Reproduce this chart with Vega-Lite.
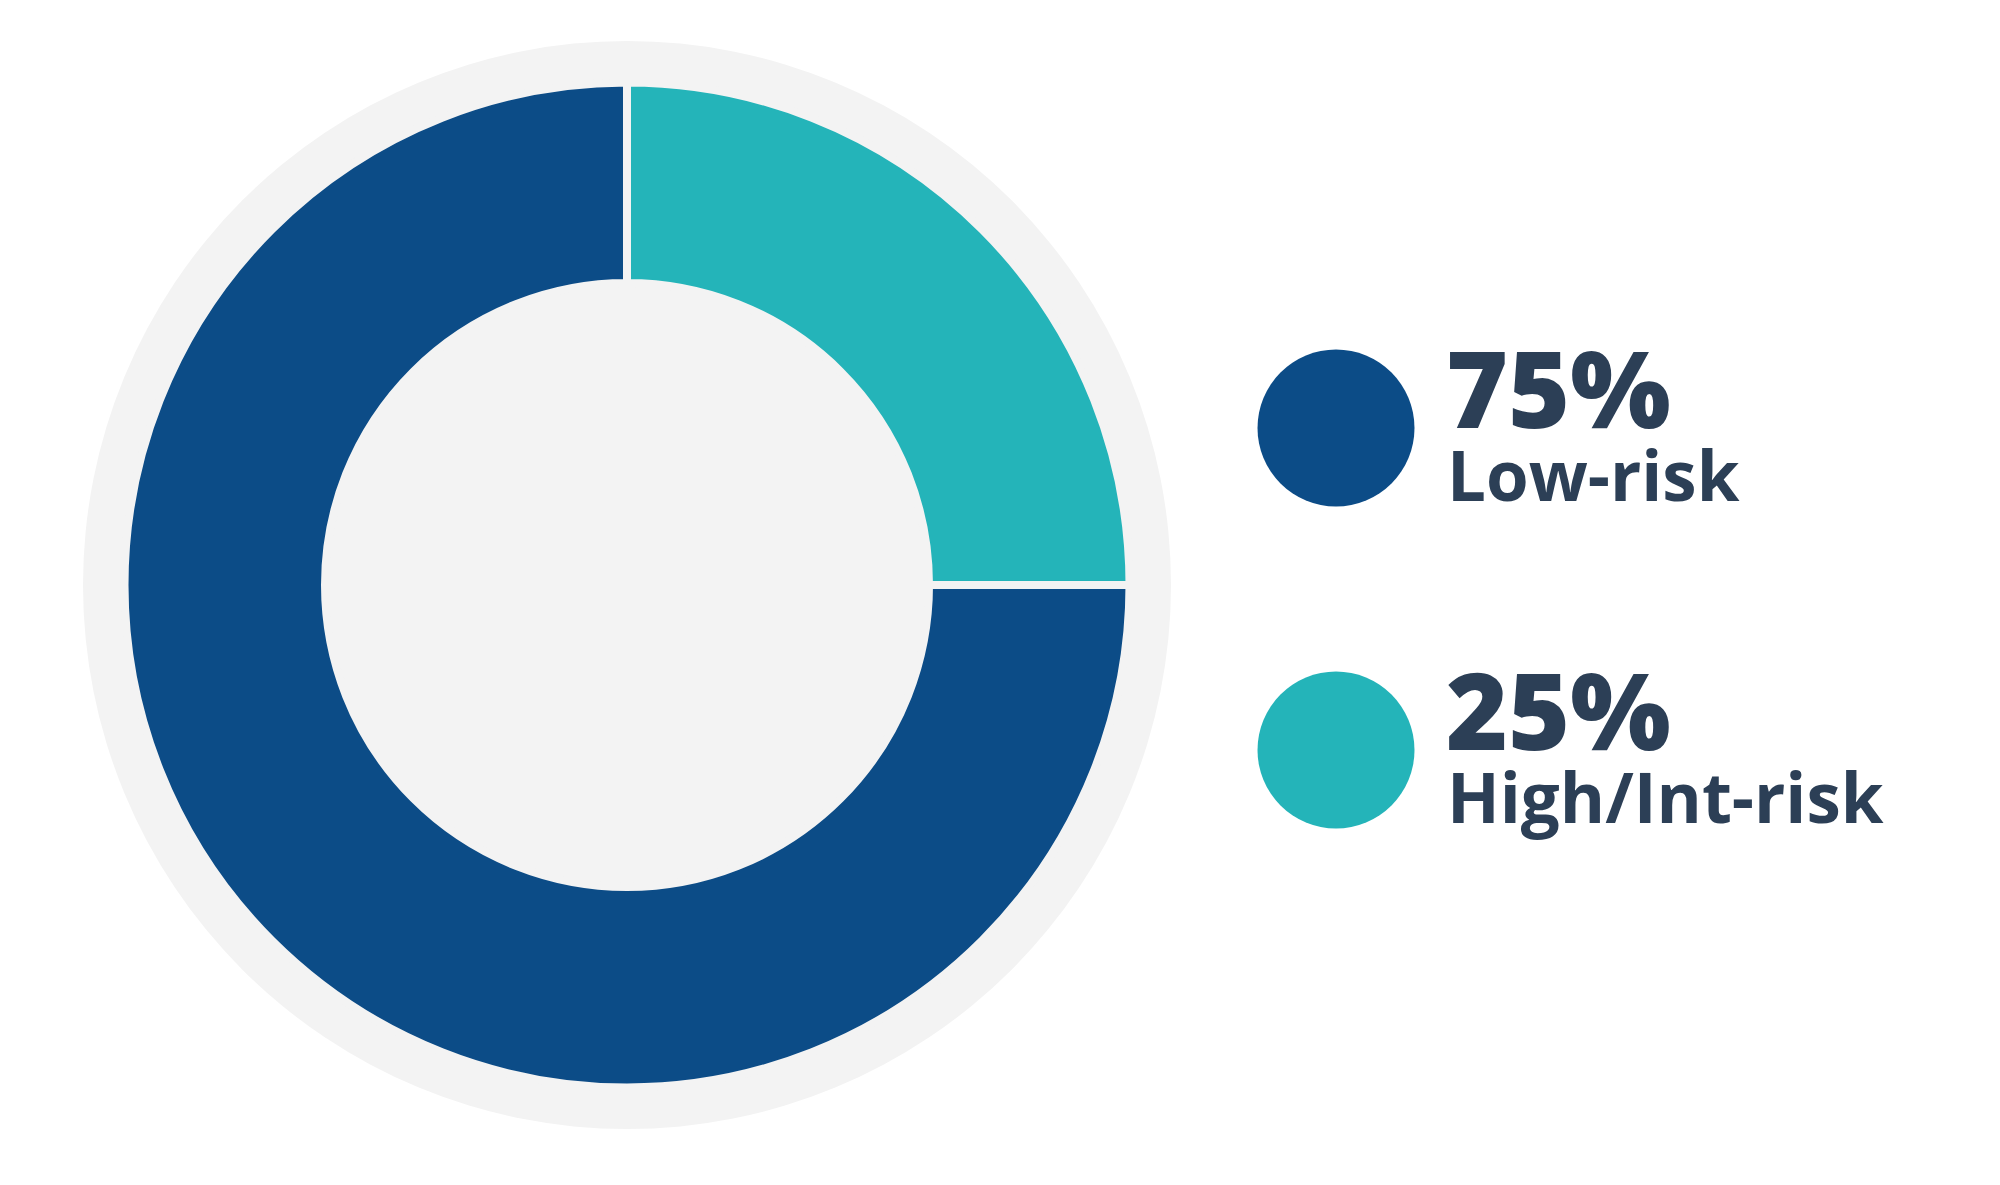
{
  "$schema": "https://vega.github.io/schema/vega-lite/v6.json",
  "padding": 0,
  "background": "#ffffff",
  "spacing": 0,
  "config": {"view": {"stroke": null}, "concat": {"spacing": 0}},
  "datasets": {
    "risk": [
      {"label": "Low-risk", "pct": "75%", "value": 75},
      {"label": "High/Int-risk", "pct": "25%", "value": 25}
    ]
  },
  "hconcat": [
    {
      "width": 1254,
      "height": 1170,
      "layer": [
        {
          "data": {"values": [{"whole": 1}]},
          "mark": {"type": "arc", "radius": 544, "theta": 0, "theta2": 6.2832, "color": "#f3f3f3"},
          "encoding": {}
        },
        {
          "data": {"name": "risk"},
          "mark": {"type": "arc", "radius": 502.5, "innerRadius": 302, "stroke": "#f3f3f3", "strokeWidth": 8},
          "encoding": {
            "theta": {"field": "value", "type": "quantitative", "stack": true},
            "order": {"field": "value", "type": "quantitative", "sort": "ascending"},
            "color": {"field": "label", "type": "nominal", "legend": null,
              "scale": {"domain": ["Low-risk", "High/Int-risk"], "range": ["#0c4c87", "#24b4b9"]}}
          }
        }
      ]
    },
    {
      "width": 164,
      "height": 1170,
      "data": {"name": "risk"},
      "encoding": {
        "y": {"field": "label", "type": "nominal", "sort": ["Low-risk", "High/Int-risk"],
          "scale": {"type": "point", "padding": 0, "range": [428, 750]}, "axis": null}
      },
      "layer": [
        {
          "mark": {"type": "point", "filled": true, "shape": "circle", "size": 24649, "opacity": 1, "strokeWidth": 0},
          "encoding": {
            "color": {"field": "label", "type": "nominal", "legend": null,
              "scale": {"domain": ["Low-risk", "High/Int-risk"], "range": ["#0c4c87", "#24b4b9"]}}
          }
        },
        {
          "mark": {"type": "text", "align": "left", "baseline": "alphabetic", "dx": 110, "dy": 0,
            "font": "Open Sans", "fontWeight": 800, "fontSize": 106, "color": "#2c3f56"},
          "encoding": {"text": {"field": "pct"}}
        },
        {
          "mark": {"type": "text", "align": "left", "baseline": "alphabetic", "dx": 111, "dy": 73,
            "font": "Open Sans", "fontWeight": 700, "fontSize": 69, "color": "#2c3f56"},
          "encoding": {"text": {"field": "label"}}
        }
      ]
    }
  ]
}
